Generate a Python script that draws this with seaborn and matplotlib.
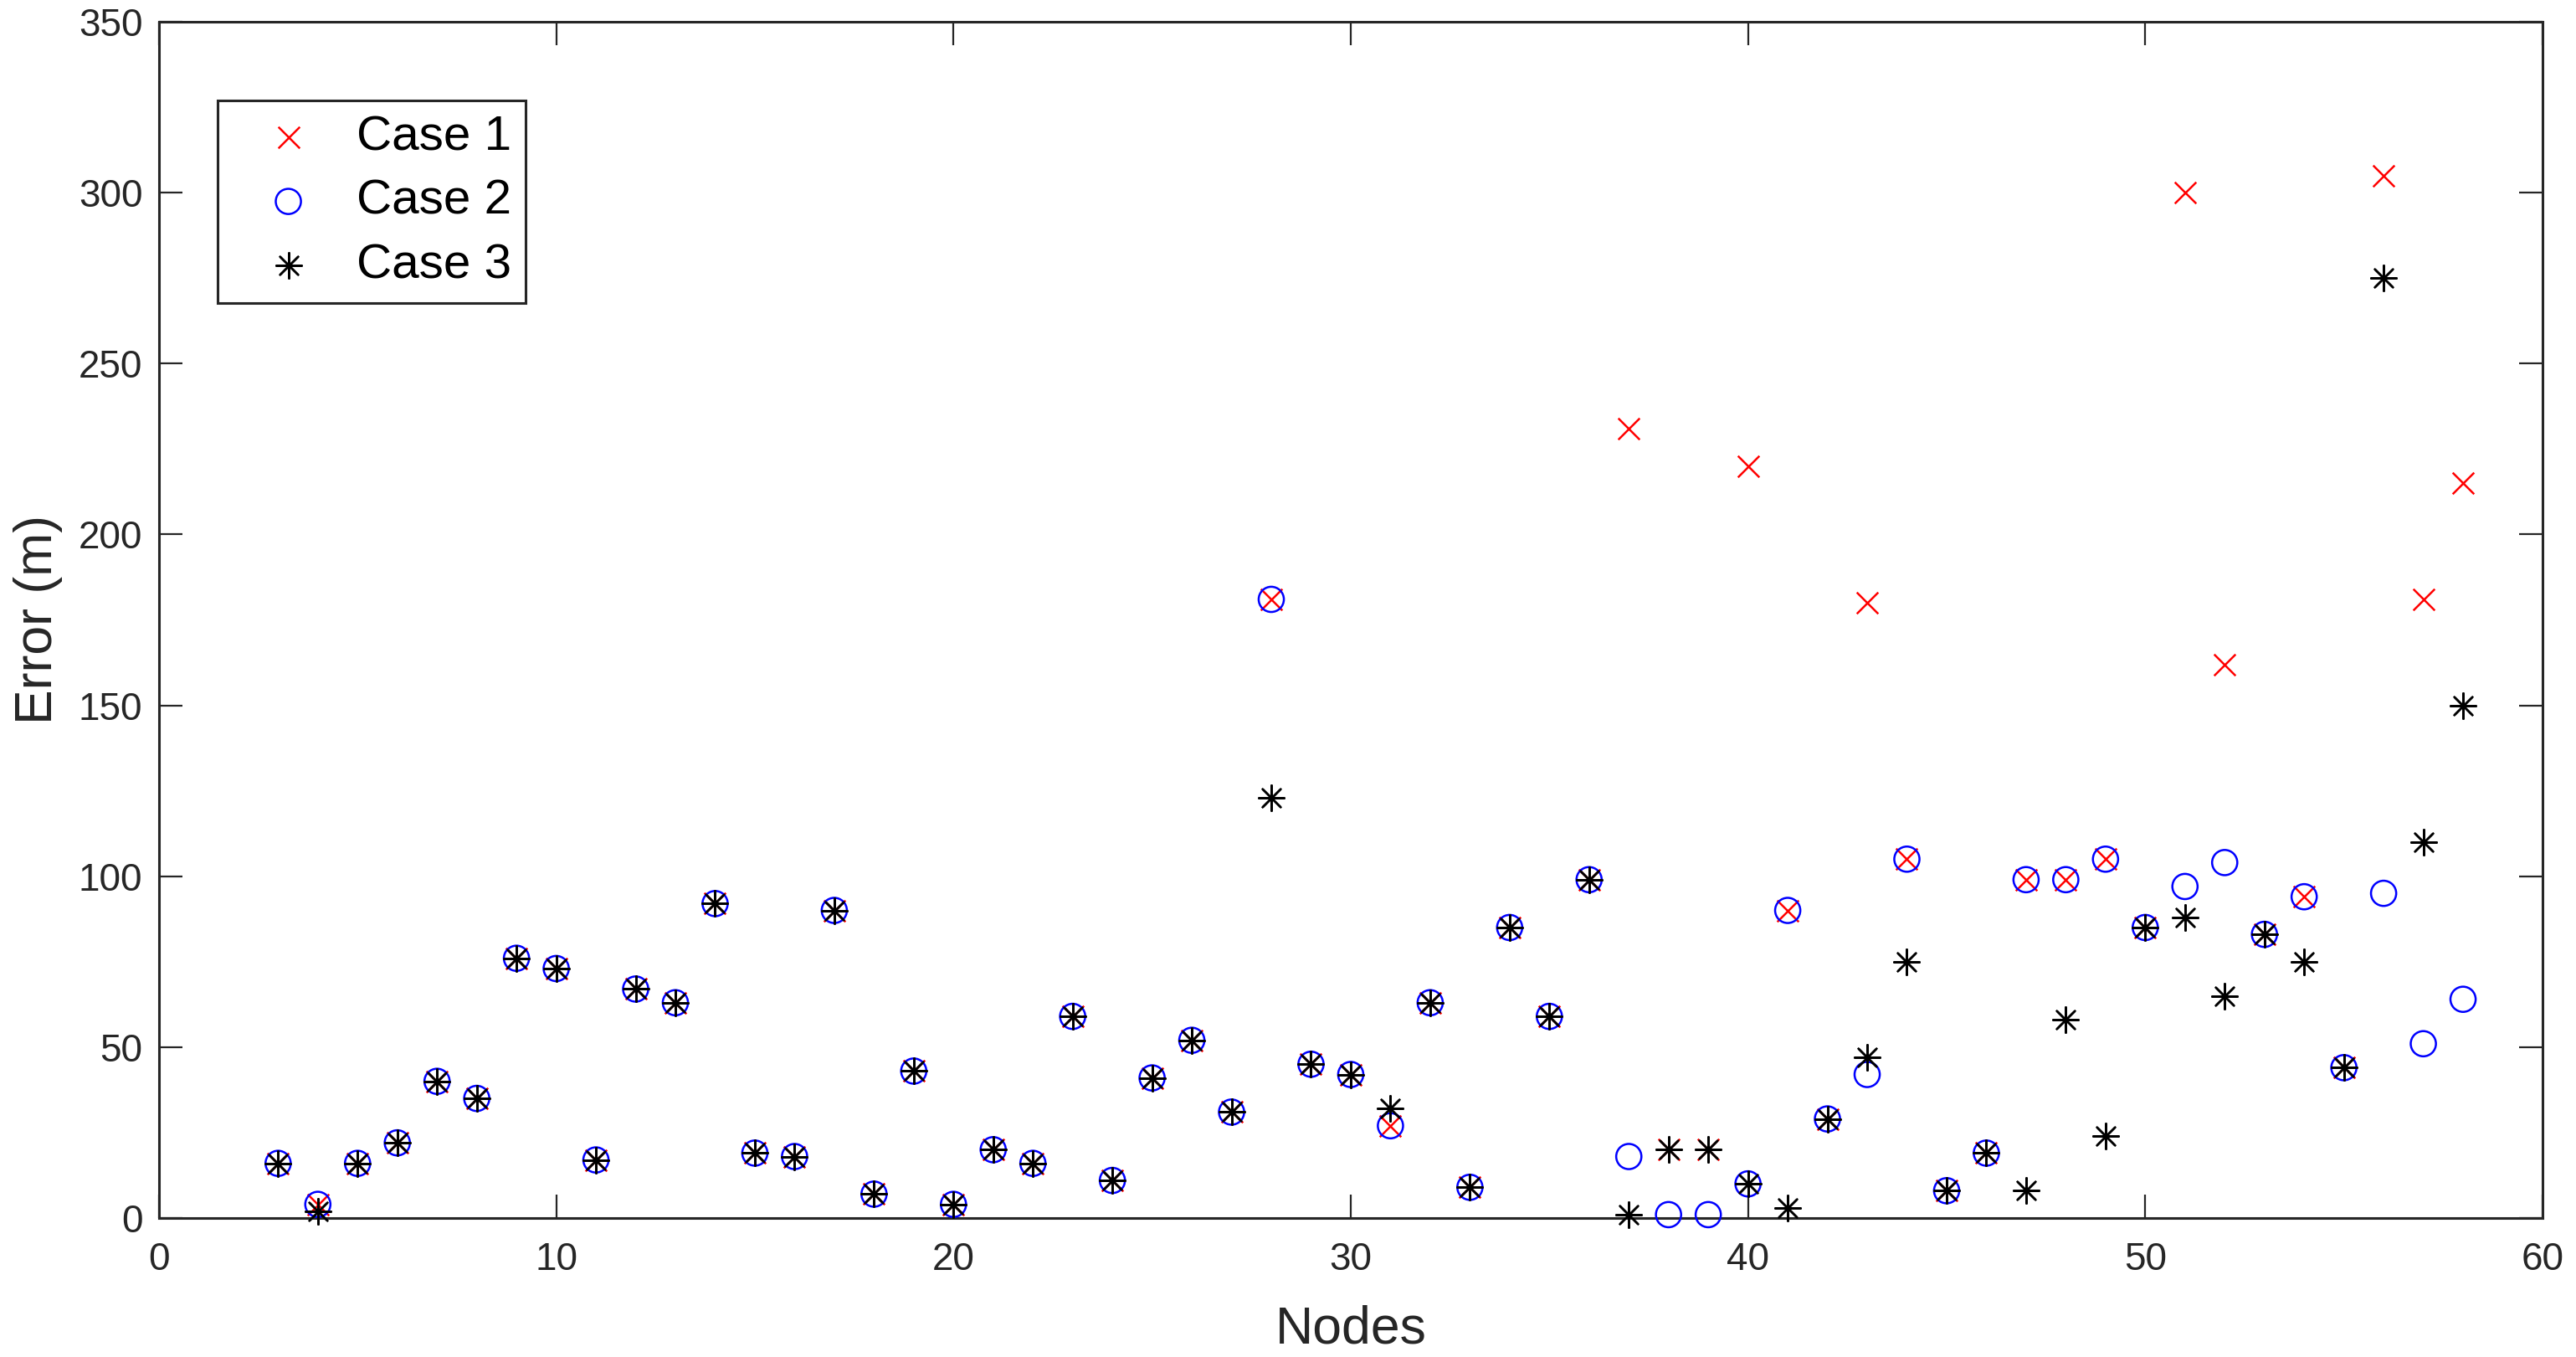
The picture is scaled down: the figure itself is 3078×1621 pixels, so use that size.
import numpy as np
import pandas as pd
import seaborn as sns
import matplotlib.pyplot as plt

# ------------------------------
# Data
# ------------------------------
nodes = list(range(3, 59))

case1 = [16, 4, 16, 22, 40, 35, 76, 73, 17, 67, 63, 92, 19, 18, 90, 7,
         43, 4, 20, 16, 59, 11, 41, 52, 31, 181, 45, 42, 27, 63, 9, 85,
         59, 99, 231, 20, 20, 220, 90, 29, 180, 105, 8, 19, 99, 99, 105, 85,
         300, 162, 83, 94, 44, 305, 181, 215]

case2 = [16, 4, 16, 22, 40, 35, 76, 73, 17, 67, 63, 92, 19, 18, 90, 7,
         43, 4, 20, 16, 59, 11, 41, 52, 31, 181, 45, 42, 27, 63, 9, 85,
         59, 99, 18, 1, 1, 10, 90, 29, 42, 105, 8, 19, 99, 99, 105, 85,
         97, 104, 83, 94, 44, 95, 51, 64]

case3 = [16, 2, 16, 22, 40, 35, 76, 73, 17, 67, 63, 92, 19, 18, 90, 7,
         43, 4, 20, 16, 59, 11, 41, 52, 31, 123, 45, 42, 32, 63, 9, 85,
         59, 99, 1, 20, 20, 10, 3, 29, 47, 75, 8, 19, 8, 58, 24, 85,
         88, 65, 83, 75, 44, 275, 110, 150]

df = pd.DataFrame({"Nodes": nodes, "Case 1": case1, "Case 2": case2, "Case 3": case3})

# ------------------------------
# Style
# ------------------------------
sns.set_style("white")
plt.rcParams["font.family"] = ["Liberation Sans", "DejaVu Sans"]
dark = "#262626"

fig = plt.figure(figsize=(30.78, 16.21), dpi=100)
ax = fig.add_axes([0.0617, 0.1024, 0.9253, 0.8816])

asterisk = (8, 2, 0)

sns.scatterplot(data=df, x="Nodes", y="Case 1", marker="x", color="#FF0000",
                s=340, linewidth=1.8, label="Case 1", clip_on=False, zorder=3, ax=ax)
sns.scatterplot(data=df, x="Nodes", y="Case 2", marker="o", facecolor="none",
                edgecolor="#0000FF", s=470, linewidth=1.8, label="Case 2",
                clip_on=False, zorder=4, ax=ax)
sns.scatterplot(data=df, x="Nodes", y="Case 3", marker=asterisk, color="black",
                s=480, linewidth=1.8, label="Case 3", clip_on=False, zorder=5, ax=ax)

# ------------------------------
# Axes
# ------------------------------
ax.set_xlim(0, 60)
ax.set_ylim(0, 350)
ax.set_xticks(np.arange(0, 61, 10))
ax.set_yticks(np.arange(0, 351, 50))

ax.set_xlabel("Nodes", fontsize=45, color=dark, labelpad=23)
ax.set_ylabel("Error (m)", fontsize=45, color=dark, labelpad=14)

ax.tick_params(axis="both", which="major", direction="in", length=20, width=1.6,
               colors=dark, labelsize=33, top=True, right=True,
               bottom=True, left=True)
ax.tick_params(axis="x", pad=20)
ax.tick_params(axis="y", pad=14)

for sp in ax.spines.values():
    sp.set_visible(True)
    sp.set_color(dark)
    sp.set_linewidth(2.2)

# legend box sits a little below the top-left corner, MATLAB style
leg = ax.legend(loc="upper left", bbox_to_anchor=(0.0246, 0.934), borderaxespad=0,
                fontsize=42, frameon=True, fancybox=False, framealpha=1,
                edgecolor=dark, borderpad=0.3, labelspacing=0.38,
                handlelength=2.3, handletextpad=0.24)
leg.get_frame().set_linewidth(2.2)
for t in leg.get_texts():
    t.set_color("black")

fig.savefig("out.png", dpi=100, facecolor="white")
